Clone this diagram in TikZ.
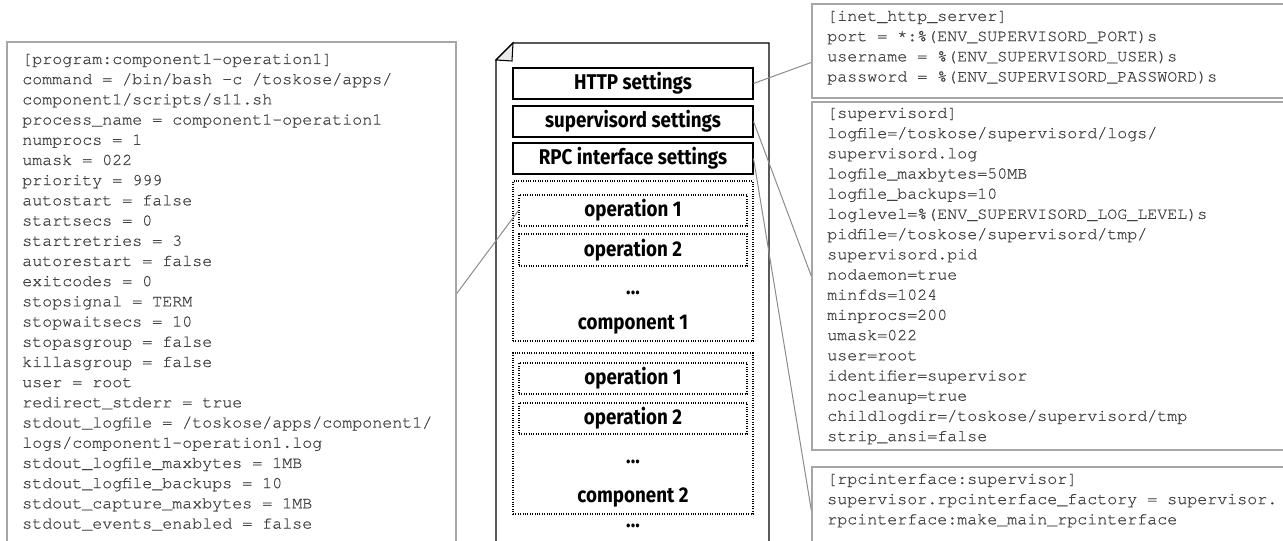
\documentclass[tikz,border=0pt]{standalone}
\usepackage{fontspec}
\setmonofont{TeX Gyre Cursor}[FakeBold=0.5]
\newfontfamily\labelfont{Fira Sans}[FakeStretch=0.88]
\usetikzlibrary{fit,calc}

\definecolor{cfgtext}{HTML}{404040}
\definecolor{cfgline}{HTML}{A6A6A6}
\definecolor{linkline}{HTML}{8C8C8C}

\tikzset{
	setting/.style={draw=black, line width=0.8pt, inner sep=0pt},
	opbox/.style={draw=black, densely dotted, line width=0.8pt, inner sep=0pt},
	boxlabel/.style={inner sep=0pt, font=\labelfont\bfseries\fontsize{16}{18}\selectfont},
	cfgbox/.style={draw=cfgline, line width=1.1pt, inner sep=0pt},
	cfgtext/.style={anchor=north west, inner sep=0pt, align=left, text=cfgtext, font=\ttfamily\fontsize{12.5}{15.15}\selectfont},
	link/.style={draw=linkline, line width=0.75pt},
}

\begin{document}
\begin{tikzpicture}[x=0.75pt, y=-0.75pt]
		\useasboundingbox (0,0) rectangle (1283,541);
		\fill[white] (0,0) rectangle (1283,541);
		\clip (0,0) rectangle (1283,541);

		% the config file
		\draw[line width=1pt] (496,560) -- (496,60) -- (513,43) -- (769,43) -- (769,560);
		\draw[line width=0.8pt, fill=black!8] (513,43) -- (496,60) -- (512,61) -- cycle;

		\node[setting, fit={(513,68) (753,99)}] (http) {};
		\node[boxlabel] at (http) {HTTP settings};
		\node[setting, fit={(513,106) (753,137)}] (superv) {};
		\node[boxlabel] at (superv) {supervisord settings};
		\node[setting, fit={(513,143) (753,174)}] (rpc) {};
		\node[boxlabel] at (rpc) {RPC interface settings};

		% component 1
		\node[opbox, fit={(513,181) (753,341)}] (comp1) {};
		\node[opbox, fit={(519,195) (747,226)}] (comp1op1) {};
		\node[boxlabel] at (comp1op1) {operation 1};
		\node[opbox, fit={(519,234) (747,266)}] (comp1op2) {};
		\node[boxlabel] at (comp1op2) {operation 2};
		\node[boxlabel] (comp1dots) at (633,293) {...};
		\node[boxlabel] (comp1name) at (633,325) {component 1};

		% component 2
		\node[opbox, fit={(513,353) (753,514)}] (comp2) {};
		\node[opbox, fit={(519,363) (747,394)}] (comp2op1) {};
		\node[boxlabel] at (comp2op1) {operation 1};
		\node[opbox, fit={(519,403) (747,434)}] (comp2op2) {};
		\node[boxlabel] at (comp2op2) {operation 2};
		\node[boxlabel] (comp2dots) at (633,462) {...};
		\node[boxlabel] (comp2name) at (633,498) {component 2};
		\node[boxlabel] (moredots) at (633,526) {...};

		% program section
		\node[cfgbox, fit={(7,42) (456,545)}] (cfgprog) {};
		\node[cfgtext] (txtprog) at (22,53.5) {[program:component1-operation1]\\
command = /bin/bash -c /toskose/apps/\\
component1/scripts/s11.sh\\
process\_name = component1-operation1\\
numprocs = 1\\
umask = 022\\
priority = 999\\
autostart = false\\
startsecs = 0\\
startretries = 3\\
autorestart = false\\
exitcodes = 0\\
stopsignal = TERM\\
stopwaitsecs = 10\\
stopasgroup = false\\
killasgroup = false\\
user = root\\
redirect\_stderr = true\\
stdout\_logfile = /toskose/apps/component1/\\
logs/component1-operation1.log\\
stdout\_logfile\_maxbytes = 1MB\\
stdout\_logfile\_backups = 10\\
stdout\_capture\_maxbytes = 1MB\\
stdout\_events\_enabled = false};

		% http section
		\node[cfgbox, fit={(812,4) (1295,98)}] (cfghttp) {};
		\node[cfgtext] (txthttp) at (827,10.5) {[inet\_http\_server]\\
port = *:\%(ENV\_SUPERVISORD\_PORT)s\\
username = \%(ENV\_SUPERVISORD\_USER)s\\
password = \%(ENV\_SUPERVISORD\_PASSWORD)s};

		% supervisord section
		\node[cfgbox, fit={(812,102) (1295,450)}] (cfgsuperv) {};
		\node[cfgtext] (txtsuperv) at (827,107.5) {[supervisord]\\
logfile=/toskose/supervisord/logs/\\
supervisord.log\\
logfile\_maxbytes=50MB\\
logfile\_backups=10\\
loglevel=\%(ENV\_SUPERVISORD\_LOG\_LEVEL)s\\
pidfile=/toskose/supervisord/tmp/\\
supervisord.pid\\
nodaemon=true\\
minfds=1024\\
minprocs=200\\
umask=022\\
user=root\\
identifier=supervisor\\
nocleanup=true\\
childlogdir=/toskose/supervisord/tmp\\
strip\_ansi=false};

		% rpc section
		\node[cfgbox, fit={(812,467) (1295,553)}] (cfgrpc) {};
		\node[cfgtext] (txtrpc) at (827,473.5) {[rpcinterface:supervisor]\\
supervisor.rpcinterface\_factory = supervisor.\\
rpcinterface:make\_main\_rpcinterface};

		% links
		\draw[link] (http.east) -- ($(cfghttp.north west)!.62!(cfghttp.south west)$);
		\draw[link] (superv.east) -- (cfgsuperv.west);
		\draw[link] (rpc.east) -- (cfgrpc.west);
		\draw[link] (comp1op1.west) -- (cfgprog.east);
	\end{tikzpicture}
\end{document}
